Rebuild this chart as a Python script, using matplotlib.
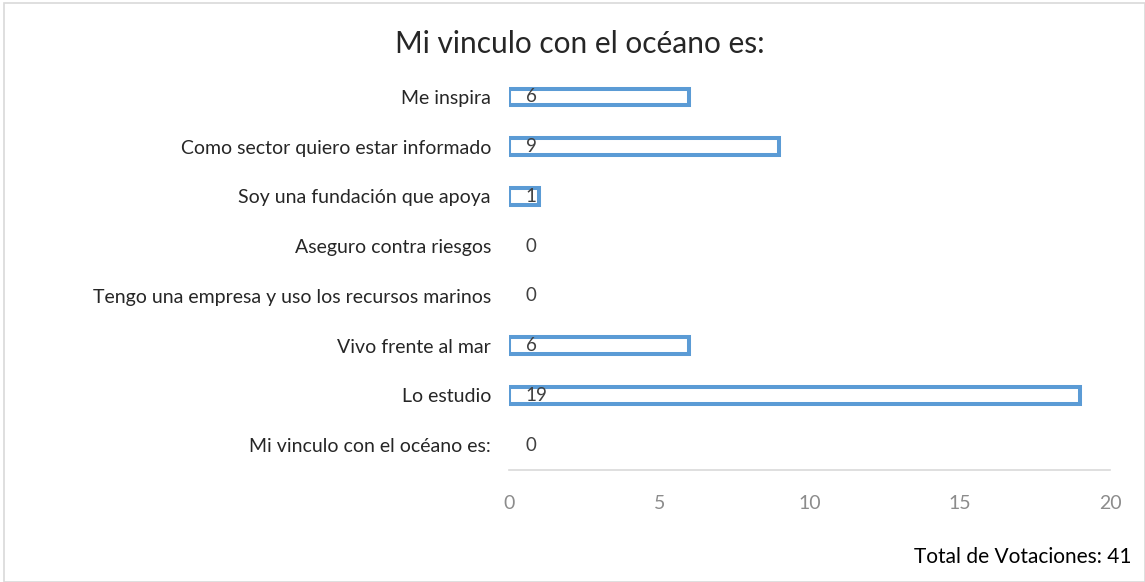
import matplotlib
matplotlib.use("Agg")
import matplotlib.pyplot as plt
from matplotlib.patches import Rectangle

categories = [
    "Mi vinculo con el océano es:",
    "Lo estudio",
    "Vivo frente al mar",
    "Tengo una empresa y uso los recursos marinos",
    "Aseguro contra riesgos",
    "Soy una fundación que apoya",
    "Como sector quiero estar informado",
    "Me inspira",
]
values = [0, 19, 6, 0, 0, 1, 9, 6]
xticks = [0, 5, 10, 15, 20]
title = "Mi vinculo con el océano es:"
footer = "Total de Votaciones: 41"

plt.rcParams['font.family'] = ['Lato', 'DejaVu Sans']

W, H = 1145, 582
fig = plt.figure(figsize=(W / 100, H / 100), dpi=100)
fig.patch.set_facecolor('white')

# figure border
fig.add_artist(Rectangle((4 / W, 0), 1 - 4 / W, 1 - 3 / H, transform=fig.transFigure,
                         fill=False, edgecolor='#D9D9D9', linewidth=1.2))

ax = fig.add_axes([509 / W, 1 - 470 / H, 601 / W, 398 / H])
ypos = list(range(len(categories)))
edges = ['#5B9BD5' if v > 0 else 'none' for v in values]
ax.barh(ypos, values, height=0.33, color='white', edgecolor=edges, linewidth=2.9)

for y, v in zip(ypos, values):
    ax.text(0.56, y, str(v), ha='left', va='center', fontsize=13.5, color='#404040')

ax.set_xlim(0, 20)
ax.set_ylim(-0.5, len(categories) - 0.5)
ax.set_yticks(ypos)
ax.set_yticklabels(categories, fontsize=14, color='#262626')
ax.set_xticks(xticks)
ax.set_xticklabels([str(t) for t in xticks], fontsize=14, color='#8C8C8C')
ax.tick_params(axis='y', length=0, pad=13)
ax.tick_params(axis='x', length=0, pad=18)
for s in ['top', 'right', 'left']:
    ax.spines[s].set_visible(False)
ax.spines['bottom'].set_color('#D9D9D9')
ax.spines['bottom'].set_linewidth(1.2)

fig.text(580 / W, 1 - 44 / H, title, ha='center', va='center', fontsize=21.5, color='#262626')
fig.text(1132 / W, 1 - 557 / H, footer, ha='right', va='center', fontsize=15, color='#000000')

fig.savefig('out.png', dpi=100)
